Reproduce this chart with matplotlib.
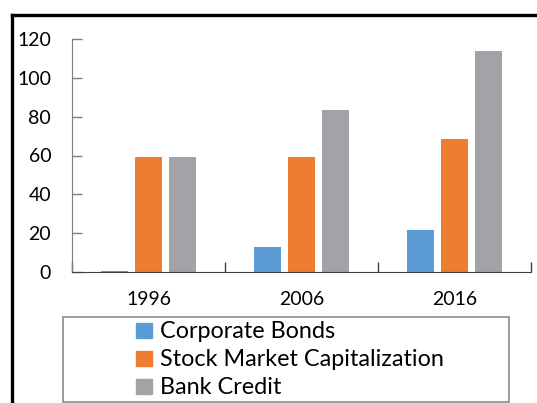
import numpy as np
from matplotlib import pyplot as plt
from matplotlib.lines import Line2D
from matplotlib.patches import Rectangle, Patch

years = ["1996", "2006", "2016"]
corporate_bonds = [0.3, 12.7, 21.6]
stock_market = [59, 59, 68.3]
bank_credit = [59, 83.3, 113.8]

series = ["Corporate Bonds", "Stock Market Capitalization", "Bank Credit"]
colors = ["#5B9BD5", "#ED7D31", "#A3A2A6"]

plt.rcParams['font.family'] = ['Lato', 'DejaVu Sans']

W, H = 537, 403
fig = plt.figure(figsize=(W / 100, H / 100), dpi=100)
ax = fig.add_axes([72 / W, 1 - 272 / H, (531 - 72) / W, (272 - 39) / H])

x = np.arange(len(years)) + 0.5
step = 0.222
width = 0.173
for i, (vals, col) in enumerate(zip([corporate_bonds, stock_market, bank_credit], colors)):
    ax.bar(x + (i - 1) * step, vals, width, color=col, label=series[i])

ax.set_xlim(0, 3)
ax.set_ylim(0, 120)
ax.set_yticks(range(0, 121, 20))
ax.tick_params(axis='y', direction='in', length=7, width=1, color='#7f7f7f',
               labelsize=14, pad=15, labelcolor='black')
ax.set_xticks([0, 1, 2, 3])
ax.set_xticklabels([])
ax.tick_params(axis='x', which='major', direction='in', length=7, width=1, color='#404040')
ax.set_xticks(x, minor=True)
ax.set_xticklabels(years, minor=True)
ax.tick_params(axis='x', which='minor', length=0, labelsize=14, pad=14)

ax.spines['top'].set_visible(False)
ax.spines['right'].set_visible(False)
ax.spines['left'].set_color('#7f7f7f')
ax.spines['bottom'].set_color('#404040')

# outer frame
fig.add_artist(Line2D([12 / W, 1], [1 - 15 / H, 1 - 15 / H], color='black', lw=2.4,
                      transform=fig.transFigure))
fig.add_artist(Line2D([12 / W, 12 / W], [0, 1 - 15 / H], color='black', lw=2.4,
                      transform=fig.transFigure))

# legend box
fig.add_artist(Rectangle((63 / W, 1 - 402 / H), (509 - 63) / W, (402 - 317) / H,
                         fill=False, edgecolor='#8c8c8c', lw=1.2, transform=fig.transFigure))
handles = [Patch(color=c) for c in colors]
fig.legend(handles, series, loc='center', bbox_to_anchor=(290 / W, 1 - 360 / H),
           frameon=False, fontsize=16.8, handlelength=0.65, handleheight=0.65,
           handletextpad=0.35, labelspacing=0.3, borderpad=0)

fig.savefig("out.png", dpi=100)
